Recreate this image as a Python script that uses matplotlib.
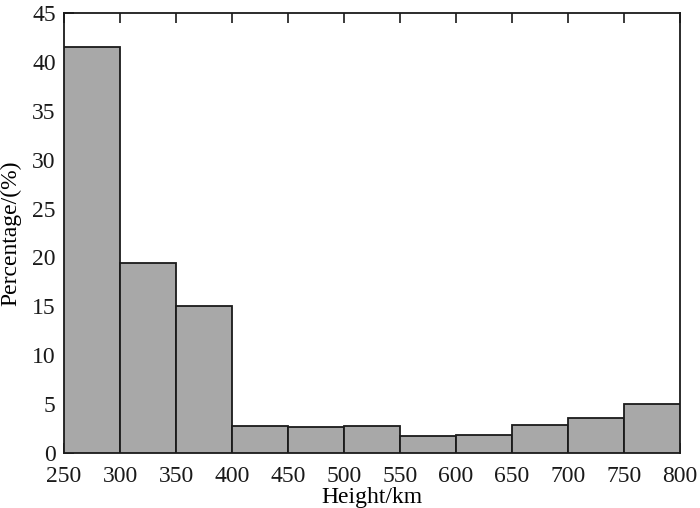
import numpy as np
import matplotlib
matplotlib.use('Agg')
import matplotlib.pyplot as plt

plt.rcParams['font.family'] = ['Liberation Serif', 'DejaVu Serif']

# histogram bins (km) and percentages
bin_edges = [250, 300, 350, 400, 450, 500, 550, 600, 650, 700, 750, 800]
percentages = [41.5, 19.4, 15.0, 2.8, 2.7, 2.8, 1.75, 1.85, 2.9, 3.6, 5.0]

fig = plt.figure(figsize=(7.0, 5.08), dpi=100)
ax = fig.add_axes([64 / 700, 55 / 508, 616 / 700, 440 / 508])

lefts = np.array(bin_edges[:-1])
widths = np.diff(bin_edges)
ax.bar(lefts, percentages, width=widths, align='edge',
       color='#a8a8a8', edgecolor='#1a1a1a', linewidth=1.3, zorder=3)

ax.set_xlim(250, 800)
ax.set_ylim(0, 45)
ax.set_xticks(range(250, 801, 50))
ax.set_yticks(range(0, 46, 5))
ax.tick_params(direction='in', top=True, right=False, length=7, width=1.2,
               labelsize=17, colors='#1a1a1a')
ax.tick_params(axis='x', pad=9)
ax.tick_params(axis='y', pad=6)
for sp in ax.spines.values():
    sp.set_linewidth(1.3)
    sp.set_color('#1a1a1a')

ax.set_xlabel('Height/km', fontsize=17, labelpad=0)
ax.set_ylabel('Percentage/(%)', fontsize=17, labelpad=8)

fig.savefig('out.png', dpi=100)
